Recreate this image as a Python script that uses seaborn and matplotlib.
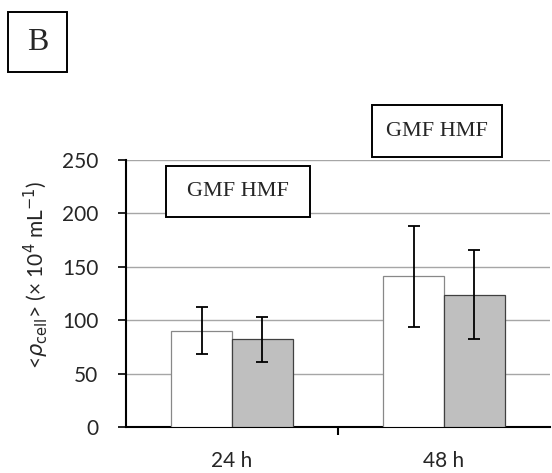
import numpy as np
import pandas as pd
import matplotlib
matplotlib.use("Agg")
import matplotlib.pyplot as plt
from matplotlib.patches import Rectangle
import seaborn as sns

times = ["24 h", "48 h"]
fields = ["GMF", "HMF"]
gmf_mean = [90, 141]
hmf_mean = [82, 124]
gmf_err = [22, 47]
hmf_err = [21, 42]

df = pd.DataFrame({
    "time": times + times,
    "field": ["GMF"] * 2 + ["HMF"] * 2,
    "value": gmf_mean + hmf_mean,
})
errs = {"GMF": gmf_err, "HMF": hmf_err}

sns.set_theme(style="white")
plt.rcParams["font.family"] = ["Lato", "DejaVu Sans"]

W, H = 552, 473
fig = plt.figure(figsize=(W / 100, H / 100), dpi=100)
ax = fig.add_axes([126 / W, 1 - 427 / H, 424 / W, 267 / H])

sns.barplot(data=df, x="time", y="value", hue="field", order=times, hue_order=fields,
            palette={"GMF": "white", "HMF": "#bfbfbf"}, width=0.575, errorbar=None,
            saturation=1, legend=False, ax=ax, zorder=3)

edge = {"GMF": "#888888", "HMF": "#404040"}
for cont, f in zip(ax.containers, fields):
    for bar, e in zip(cont, errs[f]):
        bar.set_edgecolor(edge[f])
        bar.set_linewidth(0.9)
        ax.errorbar(bar.get_x() + bar.get_width() / 2, bar.get_height(), yerr=e,
                    fmt="none", ecolor="black", elinewidth=1.3, capsize=4,
                    capthick=1.3, zorder=4)

ax.set_xlim(-0.5, 1.5)
ax.set_ylim(0, 250)
ax.set_yticks([0, 50, 100, 150, 200, 250])
ax.yaxis.grid(True, color="#a6a6a6", linewidth=1)
ax.set_axisbelow(True)
ax.set_xlabel("")
ax.set_ylabel(r"<$\rho_{\rm cell}$> (× 10$^4$ mL$^{-1}$)", fontsize=15)
ax.yaxis.set_label_coords(-0.178, 0.57)

ax.set_xticks([0, 1])
ax.set_xticklabels(times)
ax.set_xticks([0.5], minor=True)
ax.tick_params(axis="x", which="major", length=0, pad=17, labelsize=15)
ax.tick_params(axis="x", which="minor", length=6, width=1.5, direction="out",
               color="black", bottom=True)
ax.tick_params(axis="y", length=6, width=1.2, direction="out", color="black",
               labelsize=15, pad=14, left=True)

for s in ["top", "right"]:
    ax.spines[s].set_visible(False)
for s in ["left", "bottom"]:
    ax.spines[s].set_color("black")
    ax.spines[s].set_linewidth(1.5)


def box_text(x0, y0, x1, y1, txt, size):
    fig.patches.append(Rectangle((x0 / W, 1 - y1 / H), (x1 - x0) / W, (y1 - y0) / H,
                                 transform=fig.transFigure, facecolor="white",
                                 edgecolor="black", linewidth=1.4, zorder=5))
    fig.text((x0 + x1) / 2 / W, 1 - (y0 + y1) / 2 / H, txt, ha="center", va="center",
             fontsize=size, family="Liberation Serif", zorder=6)


box_text(8, 12, 67, 72, "B", 23)
box_text(166, 166, 310, 217, "GMF HMF", 16)
box_text(372, 105, 502, 157, "GMF HMF", 16)

fig.savefig("out.png", dpi=100)
